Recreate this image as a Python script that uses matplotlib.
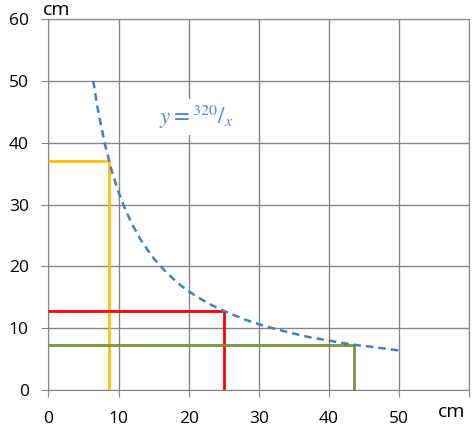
import matplotlib.pyplot as plt

# curve (y = 320/x)
curve_x = [6.4, 7, 8, 9, 10, 11, 12, 13, 14, 15, 17, 19, 21, 23, 25, 28, 31, 34, 37, 40, 43, 46, 50]
curve_y = [50, 45.7, 40, 35.6, 32, 29.1, 26.7, 24.6, 22.9, 21.3, 18.8, 16.8, 15.2, 13.9, 12.8,
           11.4, 10.3, 9.4, 8.6, 8.0, 7.4, 7.0, 6.4]

# guide lines: (x, y) points on the curve
guide_x = [8.65, 25, 43.6]
guide_y = [37, 12.8, 7.35]
guide_colors = ['#ffc000', '#ff0000', '#77933c']

xticks = [0, 10, 20, 30, 40, 50]
yticks = [0, 10, 20, 30, 40, 50, 60]

plt.rcParams['font.family'] = ['Open Sans', 'DejaVu Sans']

fig = plt.figure(figsize=(4.74, 4.32), dpi=100)
ax = fig.add_axes([0.102, 0.097, 0.8885, 0.859])

ax.set_xlim(0, 60)
ax.set_ylim(0, 60)
ax.set_xticks(xticks + [60])
ax.set_xticklabels([str(t) for t in xticks] + [''])
ax.set_yticks(yticks)
ax.grid(True, color='#868686', linewidth=1)
ax.set_axisbelow(True)
for s in ax.spines.values():
    s.set_color('#868686')
ax.tick_params(colors='#868686', length=5, labelcolor='black', labelsize=12.5)
ax.tick_params(axis='x', pad=10)
ax.tick_params(axis='y', pad=9)

for gx, gy, c in zip(guide_x, guide_y, guide_colors):
    ax.plot([0, gx], [gy, gy], color=c, linewidth=2, solid_capstyle='butt', zorder=3)
    ax.plot([gx, gx], [0, gy], color=c, linewidth=2, solid_capstyle='butt', zorder=3)

ax.plot(curve_x, curve_y, linestyle=(0, (3, 2)), color='#4a7ebb', linewidth=1.8, zorder=4)

ax.text(21.0, 44.2, r'$y = {}^{320}/_{x}$', color='#4f86d0', fontsize=16.5,
        math_fontfamily='stix', ha='center', va='center',
        bbox=dict(facecolor='white', edgecolor='none', pad=3), zorder=2)

fig.text(0.12, 0.976, 'cm', fontsize=14, ha='center', va='center')
fig.text(0.953, 0.046, 'cm', fontsize=14, ha='center', va='center')

fig.savefig('out.png', dpi=100)
